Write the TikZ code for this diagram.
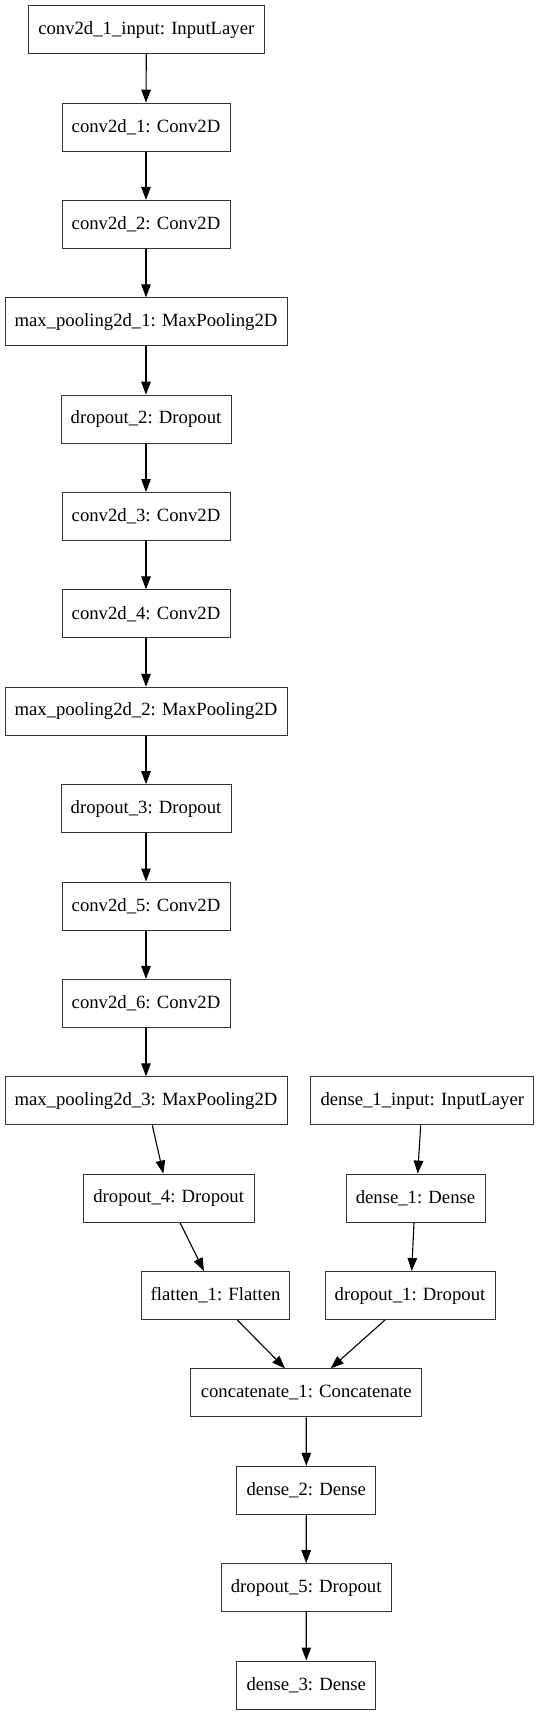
\documentclass[tikz,border=0pt]{standalone}
\usepackage{fontspec}
\setmainfont{Liberation Serif}
\usetikzlibrary{arrows.meta}
\begin{document}
\begin{tikzpicture}[x=1pt,y=-1pt,
  layer/.style={draw=black!80, line width=1pt, minimum height=48pt, inner sep=0pt,
    font=\fontsize{18.7}{22}\selectfont},
  edge/.style={draw=black, line width=1.1pt, -{Triangle[length=13pt,width=9.5pt]}}]
\useasboundingbox (0,0) rectangle (539,1715);
\node[layer, minimum width=236pt] (in1) at (146.3,29.7) {conv2d\_1\_input: InputLayer};
\node[layer, minimum width=168pt] (c1) at (146,127.1) {conv2d\_1: Conv2D};
\node[layer, minimum width=168pt] (c2) at (146,224.4) {conv2d\_2: Conv2D};
\node[layer, minimum width=282pt] (mp1) at (146,321.8) {max\_pooling2d\_1: MaxPooling2D};
\node[layer, minimum width=170pt] (do2) at (146,419.2) {dropout\_2: Dropout};
\node[layer, minimum width=168pt] (c3) at (146,516.6) {conv2d\_3: Conv2D};
\node[layer, minimum width=168pt] (c4) at (146,613.9) {conv2d\_4: Conv2D};
\node[layer, minimum width=282pt] (mp2) at (146,711.3) {max\_pooling2d\_2: MaxPooling2D};
\node[layer, minimum width=170pt] (do3) at (146,808.7) {dropout\_3: Dropout};
\node[layer, minimum width=168pt] (c5) at (146,906.0) {conv2d\_5: Conv2D};
\node[layer, minimum width=168pt] (c6) at (146,1003.4) {conv2d\_6: Conv2D};
\node[layer, minimum width=282pt] (mp3) at (146,1100.8) {max\_pooling2d\_3: MaxPooling2D};
\node[layer, minimum width=223pt] (in2) at (422.3,1100.8) {dense\_1\_input: InputLayer};
\node[layer, minimum width=171pt] (do4) at (168.7,1198.1) {dropout\_4: Dropout};
\node[layer, minimum width=139pt] (d1) at (415.5,1198.1) {dense\_1: Dense};
\node[layer, minimum width=147.6pt] (fl) at (215.5,1295.5) {flatten\_1: Flatten};
\node[layer, minimum width=170pt] (do1) at (410,1295.5) {dropout\_1: Dropout};
\node[layer, minimum width=231pt] (cat) at (306.2,1392.9) {concatenate\_1: Concatenate};
\node[layer, minimum width=139pt] (d2) at (306.3,1490.3) {dense\_2: Dense};
\node[layer, minimum width=170pt] (do5) at (306.2,1587.6) {dropout\_5: Dropout};
\node[layer, minimum width=139pt] (d3) at (306.3,1685.0) {dense\_3: Dense};
\foreach \a/\b in {in1/c1,c1/c2,c2/mp1,mp1/do2,do2/c3,c3/c4,c4/mp2,mp2/do3,do3/c5,c5/c6,c6/mp3,cat/d2,d2/do5,do5/d3}
  \draw[edge] (\a.south) -- (\b.north);
\draw[edge] ([xshift=6.3pt]mp3.south) -- ([xshift=-5.4pt]do4.north);
\draw[edge] ([xshift=11.3pt]do4.south) -- ([xshift=-11.5pt]fl.north);
\draw[edge] ([xshift=21.8pt]fl.south) -- ([xshift=-21.2pt]cat.north);
\draw[edge] ([xshift=-1.6pt]in2.south) -- ([xshift=2.2pt]d1.north);
\draw[edge] ([xshift=-1.5pt]d1.south) -- ([xshift=1.7pt]do1.north);
\draw[edge] ([xshift=-25pt]do1.south) -- ([xshift=24.5pt]cat.north);
\end{tikzpicture}
\end{document}
